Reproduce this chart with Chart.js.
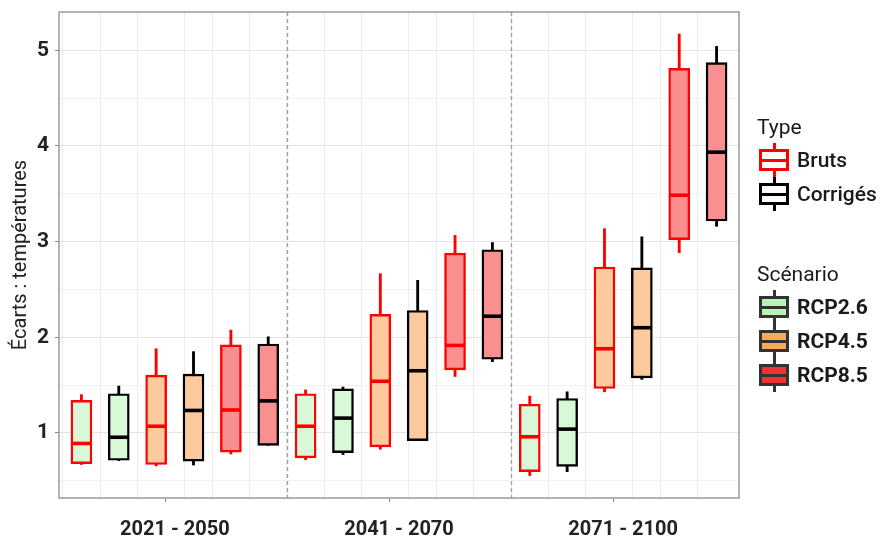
<!DOCTYPE html>
<html><head><meta charset="utf-8">
<script src="https://cdn.jsdelivr.net/npm/chart.js@4/dist/chart.umd.min.js"></script>
<style>
html,body{margin:0;padding:0;background:#fff;}
#wrap{position:relative;width:884px;height:542px;}
#legend{position:absolute;left:0;top:0;width:884px;height:542px;font-family:Roboto,sans-serif;color:#1a1a1a;pointer-events:none;}
.ttl{position:absolute;left:757px;font-size:21px;line-height:24px;height:24px;white-space:nowrap;}
.lab{position:absolute;left:797px;font-size:21px;line-height:24px;height:24px;white-space:nowrap;font-weight:500;}
.lab.b{font-weight:bold;}
.ico{position:absolute;left:759px;width:30px;height:34px;}
.ico .wh{position:absolute;left:14px;top:0;width:3px;height:34px;}
.ico .bx{position:absolute;left:0;top:6px;width:30px;height:22px;box-sizing:border-box;border:3px solid;}
.ico .md{position:absolute;left:0;top:15.5px;width:30px;height:3px;}
</style></head><body>
<div id="wrap"><canvas id="c" width="884" height="542"></canvas>
<div id="legend"></div></div>
<script>
const periods = ['2021 - 2050', '2041 - 2070', '2071 - 2100'];
const scenarios = ['RCP2.6', 'RCP4.5', 'RCP8.5'];
const types = ['Bruts', 'Corrigés'];

// order: period -> scenario -> type (Bruts, Corrigés)
const whiskerMin = [0.67, 0.71, 0.655, 0.665, 0.78, 0.87,
                    0.72, 0.775, 0.83, 0.92, 1.59, 1.745,
                    0.555, 0.595, 1.43, 1.56, 2.885, 3.16];
const q1 =         [0.68, 0.715, 0.67, 0.705, 0.80, 0.87,
                    0.74, 0.795, 0.855, 0.92, 1.66, 1.77,
                    0.595, 0.65, 1.465, 1.575, 3.02, 3.215];
const median =     [0.89, 0.955, 1.07, 1.235, 1.24, 1.335,
                    1.07, 1.155, 1.54, 1.65, 1.915, 2.22,
                    0.96, 1.04, 1.88, 2.10, 3.485, 3.935];
const q3 =         [1.34, 1.41, 1.605, 1.615, 1.92, 1.93,
                    1.41, 1.46, 2.24, 2.28, 2.88, 2.915,
                    1.30, 1.36, 2.735, 2.725, 4.81, 4.87];
const whiskerMax = [1.40, 1.49, 1.88, 1.85, 2.075, 2.005,
                    1.45, 1.48, 2.665, 2.595, 3.065, 2.99,
                    1.385, 1.43, 3.135, 3.05, 5.17, 5.04];

const yTicks = [1, 2, 3, 4, 5];
const typeColors = ['#ff0000', '#000000'];
const scenarioFills = ['#d8f8d8', '#fcca9c', '#fa8f8f'];
const legendScenarioFills = ['#b8f2b8', '#f6aa5a', '#ec3434'];

const nType = types.length, nScen = scenarios.length;
const boxes = whiskerMin.map((_, i) => {
  const t = i % nType;
  const s = Math.floor(i / nType) % nScen;
  const p = Math.floor(i / (nType * nScen));
  return {pos: i + 1, t, s, p};
});

const data = {
  datasets: [
    {
      label: 'box',
      data: boxes.map((b, i) => ({x: b.pos, y: [q1[i], q3[i]]})),
      backgroundColor: boxes.map(b => scenarioFills[b.s]),
      borderColor: boxes.map(b => typeColors[b.t]),
      borderWidth: 2.4,
      borderSkipped: false,
      barThickness: 21,
      grouped: false,
      order: 0
    },
    {
      label: 'whisker',
      data: boxes.map((b, i) => ({x: b.pos, y: [whiskerMin[i], whiskerMax[i]]})),
      backgroundColor: boxes.map(b => typeColors[b.t]),
      borderWidth: 0,
      barThickness: 2.2,
      grouped: false,
      order: 1
    }
  ]
};

const groupSize = nType * nScen;
const groupCenters = periods.map((_, p) => p * groupSize + (groupSize + 1) / 2);
const separators = periods.slice(1).map((_, p) => (p + 1) * groupSize + 0.5);

const decor = {
  id: 'decor',
  beforeDatasetsDraw(chart) {
    const {ctx, chartArea: a, scales: {x}} = chart;
    ctx.save();
    ctx.strokeStyle = '#a0a0a0';
    ctx.lineWidth = 1.4;
    ctx.setLineDash([4, 3]);
    separators.forEach(v => {
      const px = Math.round(x.getPixelForValue(v)) + 0.5;
      ctx.beginPath(); ctx.moveTo(px, a.top); ctx.lineTo(px, a.bottom); ctx.stroke();
    });
    ctx.restore();
  },
  afterDatasetsDraw(chart) {
    const {ctx, chartArea: a, scales: {x, y}} = chart;
    ctx.save();
    ctx.lineWidth = 3.6;
    boxes.forEach((b, i) => {
      const px = x.getPixelForValue(b.pos);
      const py = y.getPixelForValue(median[i]);
      ctx.strokeStyle = typeColors[b.t];
      ctx.beginPath(); ctx.moveTo(px - 10, py); ctx.lineTo(px + 10, py); ctx.stroke();
    });
    ctx.strokeStyle = '#9a9a9a';
    ctx.lineWidth = 1.5;
    ctx.strokeRect(a.left, a.top, a.right - a.left, a.bottom - a.top);
    ctx.restore();
  }
};

const isInt = v => Math.abs(v - Math.round(v)) < 1e-6;

new Chart(document.getElementById('c'), {
  type: 'bar',
  data,
  plugins: [decor],
  options: {
    responsive: false,
    animation: false,
    layout: {padding: {top: 12, right: 145, left: 0, bottom: 0}},
    plugins: {legend: {display: false}, tooltip: {enabled: false}},
    scales: {
      x: {
        type: 'linear',
        min: 0.4, max: 18.6,
        offset: false,
        afterFit(s) { s.height = 44; s.paddingLeft = 0; s.paddingRight = 0; },
        afterBuildTicks(s) {
          const vals = boxes.map(b => b.pos).concat(groupCenters).sort((a, b) => a - b);
          s.ticks = vals.map(v => ({value: v}));
        },
        border: {display: false},
        grid: {
          color: c => (c.tick && isInt(c.tick.value)) ? '#ececec' : 'rgba(0,0,0,0)',
          lineWidth: 1,
          tickColor: c => (c.tick && !isInt(c.tick.value)) ? '#888' : 'rgba(0,0,0,0)',
          tickLength: 4
        },
        ticks: {
          autoSkip: false, maxRotation: 0, minRotation: 0, padding: 16,
          color: '#222',
          font: {family: 'Roboto', size: 20, weight: 'bold'},
          callback: v => { const k = groupCenters.indexOf(v); return k >= 0 ? periods[k] : ''; }
        }
      },
      y: {
        min: 0.32, max: 5.4,
        afterFit(s) { s.width = 59; s.paddingTop = 0; s.paddingBottom = 0; },
        afterBuildTicks(s) {
          const out = [];
          for (let v = 0.5; v <= 5.0001; v += 0.5) out.push({value: v});
          s.ticks = out;
        },
        border: {display: false},
        grid: {
          color: c => (c.tick && isInt(c.tick.value)) ? '#e4e4e4' : '#f2f2f2',
          lineWidth: 1,
          tickColor: c => (c.tick && isInt(c.tick.value)) ? '#888' : 'rgba(0,0,0,0)',
          tickLength: 4
        },
        ticks: {
          padding: 6, color: '#222',
          font: {family: 'Roboto', size: 21, weight: 'bold'},
          callback: v => yTicks.includes(v) ? String(v) : ''
        },
        title: {
          display: true, text: 'Écarts : températures', color: '#222',
          font: {family: 'Roboto', size: 20}, padding: {top: 9, bottom: 0}
        }
      }
    }
  }
});

// legend (HTML)
const lg = document.getElementById('legend');
function icon(cy, border, fill, mid) {
  return '<div class="ico" style="top:' + (cy - 17) + 'px"><div class="wh" style="background:' + border + '"></div>' +
    '<div class="bx" style="border-color:' + border + ';background:' + fill + '"></div>' +
    '<div class="md" style="background:' + mid + '"></div></div>';
}
const typeY = [160, 194];
const scenY = [307, 341, 375];
let html = '<div class="ttl" style="top:' + (127 - 12) + 'px">Type</div>';
types.forEach((t, k) => {
  html += icon(typeY[k], typeColors[k], '#fff', typeColors[k]) +
    '<div class="lab" style="top:' + (typeY[k] - 12) + 'px">' + t + '</div>';
});
html += '<div class="ttl" style="top:' + (274 - 12) + 'px">Scénario</div>';
scenarios.forEach((s, k) => {
  html += icon(scenY[k], '#333', legendScenarioFills[k], '#333') +
    '<div class="lab b" style="top:' + (scenY[k] - 12) + 'px">' + s + '</div>';
});
lg.innerHTML = html;
</script>
</body></html>
